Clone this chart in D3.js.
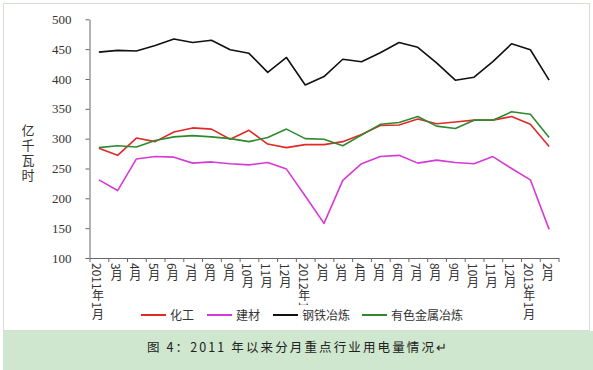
<!DOCTYPE html>
<html><head><meta charset="utf-8">
<script src="https://cdn.jsdelivr.net/npm/d3@7"></script>
<style>
html,body{margin:0;padding:0;background:#fff;}
svg{display:block;}
</style>
</head><body>
<svg id="c" width="593" height="370"></svg>
<script>
const categories = ["2011年1月","3月","4月","5月","6月","7月","8月","9月","10月","11月","12月",
  "2012年1月","2月","3月","4月","5月","6月","7月","8月","9月","10月","11月","12月",
  "2013年1月","2月"];
const seriesNames = ["化工","建材","钢铁冶炼","有色金属冶炼"];
const chemical = [284,272,301,295,311,318,316,299,314,291,285,290,290,295,307,322,323,333,325,328,331,331,337,324,287];
const building = [231,213,266,270,269,259,261,258,256,260,249,204,158,230,258,270,272,259,264,260,258,270,250,231,148];
const steel    = [445,448,447,456,467,461,465,449,443,411,436,390,404,433,429,444,461,453,427,398,403,429,459,449,398];
const nonferrous = [285,288,286,297,303,305,303,300,295,302,316,300,299,288,306,324,327,337,321,317,331,331,345,341,302];
const yTicks = [100,150,200,250,300,350,400,450,500];
const yTitle = "亿千瓦时";
const caption = "图 4：2011 年以来分月重点行业用电量情况↵";

const colors = ["#e02a2a","#d63ad6","#111111","#2f8a2f"];
const series = [chemical, building, steel, nonferrous];

const svg = d3.select("#c");
// chart frame
svg.append("rect").attr("x",3.5).attr("y",3.5).attr("width",586).attr("height",327)
  .attr("fill","#fff").attr("stroke","#d3dfd3").attr("stroke-width",1);
// caption band
svg.append("rect").attr("x",3).attr("y",331).attr("width",590).attr("height",39).attr("fill","#cfe7cf");
svg.append("text").attr("x",297).attr("y",352).attr("text-anchor","middle")
  .attr("font-family","'Noto Sans CJK SC', sans-serif").attr("font-size",12.5).attr("fill","#222")
  .attr("textLength",300).attr("lengthAdjust","spacing").text(caption);

const x0 = 89.5, x1 = 558.5, yTop = 19.3, yBot = 258;
const xl = d3.scaleLinear().domain([0, categories.length]).range([x0, x1]);
const y = d3.scaleLinear().domain([100, 500]).range([yBot, yTop]);

// y axis
const ya = svg.append("g").attr("transform",`translate(${x0},0)`)
  .call(d3.axisLeft(y).tickValues(yTicks).tickSize(4).tickSizeOuter(0).tickPadding(14));
ya.selectAll("path,line").attr("stroke","#666");
ya.selectAll("text").attr("font-family","'Liberation Serif', serif").attr("font-size",13).attr("fill","#333");

// x axis
const xa = svg.append("g").attr("transform",`translate(0,${yBot})`)
  .call(d3.axisBottom(xl).tickValues(d3.range(categories.length+1)).tickFormat("").tickSize(4).tickSizeOuter(0));
xa.selectAll("path,line").attr("stroke","#666");

// x labels (vertical)
svg.append("g").selectAll("text").data(categories).join("text")
  .attr("x",(d,i)=>xl(i+0.5)-1).attr("y",yBot+5)
  .attr("font-family","'Noto Sans CJK SC', sans-serif").attr("font-size",12).attr("fill","#333")
  .style("writing-mode","vertical-rl").style("text-orientation","mixed")
  .text(d=>d);

// y title (single vertical text)
svg.append("text").attr("x",28).attr("y",124)
  .attr("font-family","'Noto Sans CJK SC', sans-serif").attr("font-size",13).attr("fill","#333")
  .style("writing-mode","vertical-rl").style("text-orientation","upright")
  .style("letter-spacing","2px")
  .text(yTitle);

// lines
const line = d3.line().x((d,i)=>xl(i+0.5)).y(d=>y(d));
series.forEach((s,k)=>{
  svg.append("path").datum(s).attr("d",line).attr("fill","none")
    .attr("stroke",colors[k]).attr("stroke-width",1.6).attr("stroke-linejoin","round");
});

// legend
svg.append("rect").attr("x",135).attr("y",305).attr("width",325).attr("height",20).attr("fill","#fff");
const legX = [141, 207, 273, 362];
const lg = svg.append("g").selectAll("g").data(seriesNames).join("g")
  .attr("transform",(d,i)=>`translate(${legX[i]},315)`);
lg.append("line").attr("x1",0).attr("x2",25).attr("y1",0).attr("y2",0)
  .attr("stroke",(d,i)=>colors[i]).attr("stroke-width",2);
lg.append("text").attr("x",29).attr("y",4.5)
  .attr("font-family","'Noto Sans CJK SC', sans-serif").attr("font-size",12).attr("fill","#333")
  .text(d=>d);
</script>
</body></html>
